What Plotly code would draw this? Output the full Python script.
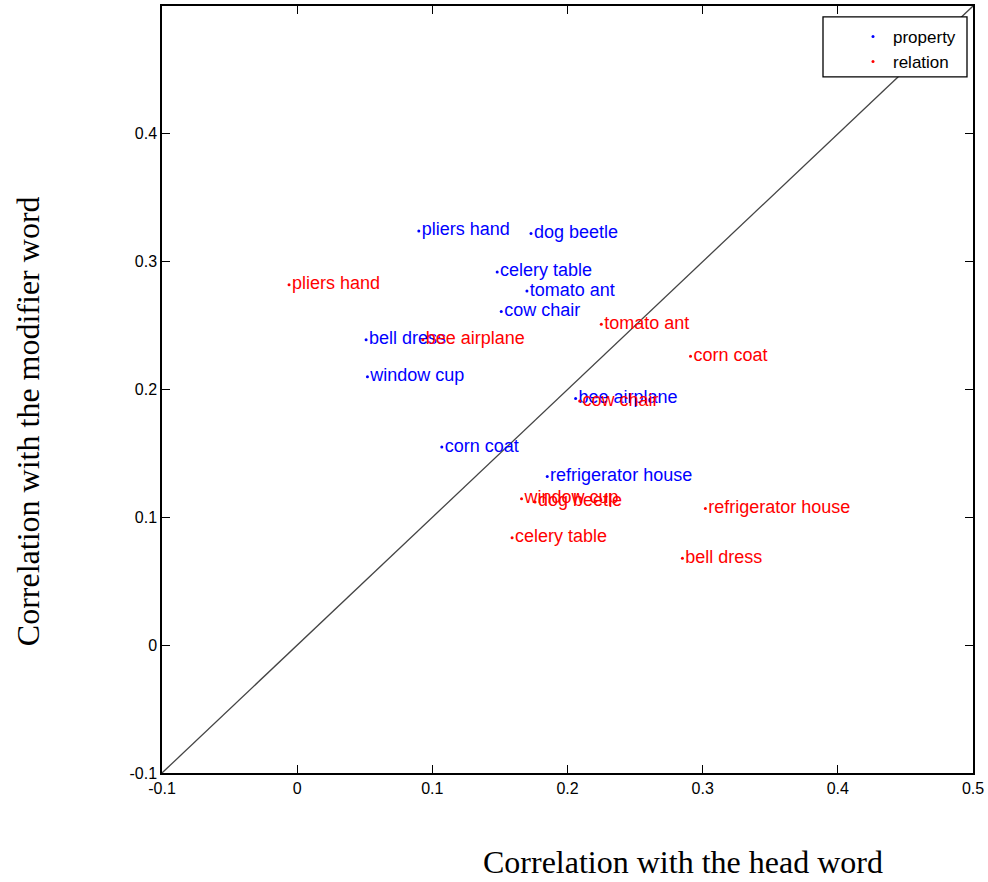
import plotly.graph_objects as go

# property (blue) series
prop_labels = ["pliers hand", "dog beetle", "celery table", "tomato ant", "cow chair",
               "bell dress", "window cup", "bee airplane", "corn coat", "refrigerator house"]
prop_head = [0.090, 0.173, 0.148, 0.170, 0.151, 0.051, 0.052, 0.206, 0.107, 0.185]
prop_mod = [0.324, 0.322, 0.292, 0.277, 0.261, 0.239, 0.210, 0.193, 0.155, 0.132]

# relation (red) series
rel_labels = ["pliers hand", "bee airplane", "tomato ant", "corn coat", "cow chair",
              "window cup", "dog beetle", "refrigerator house", "celery table", "bell dress"]
rel_head = [-0.006, 0.093, 0.225, 0.291, 0.209, 0.166, 0.176, 0.302, 0.159, 0.285]
rel_mod = [0.282, 0.239, 0.251, 0.226, 0.191, 0.1145, 0.112, 0.107, 0.084, 0.068]

axis_range = [-0.1, 0.5]
x_ticks = [-0.1, 0, 0.1, 0.2, 0.3, 0.4, 0.5]
x_ticktext = ["-0.1", "0", "0.1", "0.2", "0.3", "0.4", "0.5"]
y_ticks = [-0.1, 0, 0.1, 0.2, 0.3, 0.4]
y_ticktext = ["-0.1", "0", "0.1", "0.2", "0.3", "0.4"]

fig = go.Figure()

fig.add_trace(go.Scatter(
    x=axis_range, y=axis_range, mode="lines",
    line=dict(color="#444444", width=1.3), showlegend=False, hoverinfo="skip"))

fig.add_trace(go.Scatter(
    x=prop_head, y=prop_mod, mode="markers+text", name="property",
    text=prop_labels, textposition="middle right",
    textfont=dict(family="Liberation Sans, Arial", size=18, color="#0000ff"),
    marker=dict(color="#0000ff", size=3)))

fig.add_trace(go.Scatter(
    x=rel_head, y=rel_mod, mode="markers+text", name="relation",
    text=rel_labels, textposition="middle right",
    textfont=dict(family="Liberation Sans, Arial", size=18, color="#ff0000"),
    marker=dict(color="#ff0000", size=3)))

axis_common = dict(
    showgrid=False, zeroline=False, showline=True, linecolor="black", linewidth=1.5,
    mirror="ticks", ticks="inside", ticklen=8, tickcolor="black", tickwidth=1.2,
    tickfont=dict(family="Liberation Sans, Arial", size=16, color="black"),
)

fig.update_xaxes(range=axis_range, tickvals=x_ticks, ticktext=x_ticktext, **axis_common)
fig.update_yaxes(range=axis_range, tickvals=y_ticks, ticktext=y_ticktext, **axis_common)

fig.update_layout(
    width=988, height=882,
    margin=dict(l=162, r=15, t=4, b=109),
    plot_bgcolor="white", paper_bgcolor="white",
    showlegend=True,
    legend=dict(
        x=(853 - 162) / 811, y=(773 - 17) / 769, xanchor="left", yanchor="top",
        bgcolor="rgba(0,0,0,0)", borderwidth=0,
        font=dict(family="Liberation Sans, Arial", size=17, color="black"),
        itemsizing="trace", tracegroupgap=0,
    ),
    shapes=[dict(type="rect", xref="paper", yref="paper",
                 x0=(823 - 162) / 811, x1=(967 - 162) / 811,
                 y0=(773 - 75) / 769, y1=(773 - 15) / 769,
                 fillcolor="white", line=dict(color="black", width=1.3), layer="above")],
    annotations=[
        dict(text="Correlation with the head word", xref="paper", yref="paper",
             x=0.642, y=-0.1157, xanchor="center", yanchor="middle", showarrow=False,
             font=dict(family="Liberation Serif, Times New Roman", size=32, color="black")),
        dict(text="Correlation with the modifier word", xref="paper", yref="paper",
             x=-0.165, y=0.459, xanchor="center", yanchor="middle", showarrow=False,
             textangle=-90,
             font=dict(family="Liberation Serif, Times New Roman", size=32, color="black")),
    ],
)

fig.write_html("out.html", config={"displayModeBar": False},
               post_script="document.body.style.margin='0';document.body.style.overflow='hidden';")
